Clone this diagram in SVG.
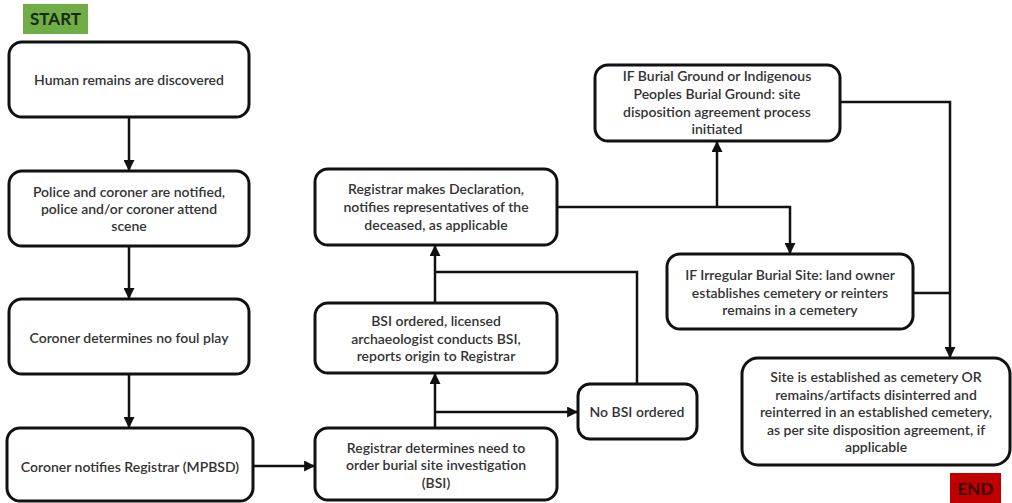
<svg xmlns="http://www.w3.org/2000/svg" width="1012" height="503" viewBox="0 0 1012 503">
<defs>
<style>
.box{fill:#fff;stroke:#111;stroke-width:3}
.t{font-family:Lato,"Open Sans",sans-serif;font-size:14px;fill:#333;text-anchor:middle;font-weight:600}
.ln{fill:none;stroke:#111;stroke-width:2.5}
.term{font-family:Lato,"Open Sans",sans-serif;font-size:17px;font-weight:bold;text-anchor:middle}
</style>
<marker id="ah" viewBox="0 0 10 10" refX="9" refY="5" markerWidth="4.4" markerHeight="4.4" orient="auto" markerUnits="strokeWidth">
<path d="M0,0 L10,5 L0,10 z" fill="#111"/>
</marker>
</defs>
<rect width="1012" height="503" fill="#fff"/>
<g id="start">
<rect x="23" y="4" width="65" height="30" fill="#70ad47"/>
<text class="term" x="55.5" y="25" fill="#1a2a10">START</text>
</g>
<g id="end">
<rect x="950" y="473" width="51" height="30" fill="#c00000"/>
<text class="term" x="975.5" y="495" fill="#3a0000">END</text>
</g>
<g id="n1">
<rect class="box" x="9" y="42" width="240" height="75" rx="13"/>
<text class="t" x="129" y="85">Human remains are discovered</text>
</g>
<g id="n2">
<rect class="box" x="9" y="171" width="240" height="75" rx="13"/>
<text class="t" x="129" y="197">Police and coroner are notified,</text>
<text class="t" x="129" y="214">police and/or coroner attend</text>
<text class="t" x="129" y="231">scene</text>
</g>
<g id="n3">
<rect class="box" x="9" y="299" width="240" height="75" rx="13"/>
<text class="t" x="129" y="343">Coroner determines no foul play</text>
</g>
<g id="n4">
<rect class="box" x="7" y="428" width="246" height="73" rx="13"/>
<text class="t" x="130" y="472">Coroner notifies Registrar (MPBSD)</text>
</g>
<g id="n5">
<rect class="box" x="315" y="428" width="242" height="72" rx="13"/>
<text class="t" x="436" y="453">Registrar determines need to</text>
<text class="t" x="436" y="470">order burial site investigation</text>
<text class="t" x="436" y="488">(BSI)</text>
</g>
<g id="n6">
<rect class="box" x="315" y="303" width="242" height="70" rx="13"/>
<text class="t" x="436" y="326">BSI ordered, licensed</text>
<text class="t" x="436" y="344">archaeologist conducts BSI,</text>
<text class="t" x="436" y="361">reports origin to Registrar</text>
</g>
<g id="n7">
<rect class="box" x="578" y="384" width="119" height="55" rx="12"/>
<text class="t" x="637" y="417">No BSI ordered</text>
</g>
<g id="n8">
<rect class="box" x="315" y="169" width="242" height="76" rx="13"/>
<text class="t" x="436" y="194">Registrar makes Declaration,</text>
<text class="t" x="436" y="212">notifies representatives of the</text>
<text class="t" x="436" y="230">deceased, as applicable</text>
</g>
<g id="n9">
<rect class="box" x="595" y="65" width="245" height="76" rx="13"/>
<text class="t" x="717" y="81">IF Burial Ground or Indigenous</text>
<text class="t" x="717" y="99">Peoples Burial Ground: site</text>
<text class="t" x="717" y="117">disposition agreement process</text>
<text class="t" x="717" y="134">initiated</text>
</g>
<g id="n10">
<rect class="box" x="667" y="254" width="246" height="75" rx="13"/>
<text class="t" x="790" y="280">IF Irregular Burial Site: land owner</text>
<text class="t" x="790" y="298">establishes cemetery or reinters</text>
<text class="t" x="790" y="315">remains in a cemetery</text>
</g>
<g id="n11">
<rect class="box" x="742" y="358" width="268" height="107" rx="16"/>
<text class="t" x="876" y="382">Site is established as cemetery OR</text>
<text class="t" x="876" y="400">remains/artifacts disinterred and</text>
<text class="t" x="876" y="417">reinterred in an established cemetery,</text>
<text class="t" x="876" y="435">as per site disposition agreement, if</text>
<text class="t" x="876" y="452">applicable</text>
</g>
<g id="connectors">
<path class="ln" d="M129,117 V170" marker-end="url(#ah)"/>
<path class="ln" d="M129,246 V298" marker-end="url(#ah)"/>
<path class="ln" d="M129,374 V427" marker-end="url(#ah)"/>
<path class="ln" d="M253,466 H314" marker-end="url(#ah)"/>
<path class="ln" d="M435,428 V374" marker-end="url(#ah)"/>
<path class="ln" d="M435,412 H577" marker-end="url(#ah)"/>
<path class="ln" d="M637,384 V272 H435"/>
<path class="ln" d="M435,303 V246" marker-end="url(#ah)"/>
<path class="ln" d="M557,207 H717"/>
<path class="ln" d="M717,207 V142" marker-end="url(#ah)"/>
<path class="ln" d="M717,207 H790 V253" marker-end="url(#ah)"/>
<path class="ln" d="M840,102 H950 V357" marker-end="url(#ah)"/>
<path class="ln" d="M913,293 H950"/>
</g>
</svg>
